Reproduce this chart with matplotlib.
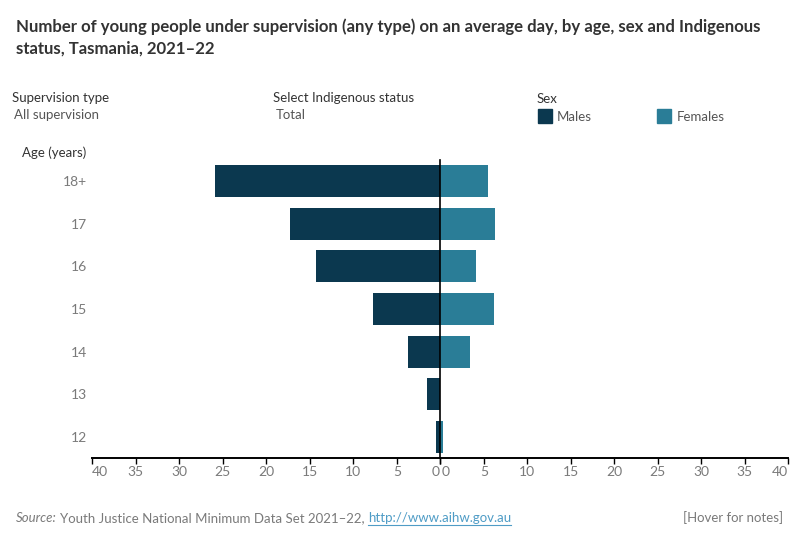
import matplotlib
matplotlib.use("Agg")
import matplotlib.pyplot as plt
from matplotlib.lines import Line2D
from matplotlib.patches import Rectangle

ages = ["18+", "17", "16", "15", "14", "13", "12"]
males = [25.9, 17.3, 14.3, 7.7, 3.7, 1.5, 0.5]
females = [5.5, 6.3, 4.1, 6.2, 3.4, 0.0, 0.3]
xticks = [0, 5, 10, 15, 20, 25, 30, 35, 40]

C_M = "#0b384f"
C_F = "#2a7d97"
GREY = "#7a7a7a"
DARK = "#333333"
FONT = "Lato"

plt.rcParams["font.family"] = [FONT, "DejaVu Sans"]

W, H = 800, 550
fig = plt.figure(figsize=(8, 5.5), dpi=100)

def fx(x):
    return x / W

def fy(y):
    return 1 - y / H

x0, xz, x1 = 92.3, 440.3, 788.3
ytop, ybot = 160, 458
axL = fig.add_axes([fx(x0), fy(ybot), fx(xz - x0), (ybot - ytop) / H])
axR = fig.add_axes([fx(xz), fy(ybot), fx(x1 - xz), (ybot - ytop) / H], sharey=axL)

ypos = list(range(len(ages)))
axL.barh(ypos, males, height=0.75, color=C_M)
axR.barh(ypos, females, height=0.75, color=C_F)
axL.set_xlim(40, 0)
axR.set_xlim(0, 40)
axL.set_ylim(len(ages) - 0.5, -0.5)

for ax, side in ((axL, "L"), (axR, "R")):
    for s in ("top", "right", "left"):
        ax.spines[s].set_visible(False)
    ax.spines["bottom"].set_linewidth(1.4)
    ax.spines["bottom"].set_color("black")
    ax.set_xticks(xticks)
    ax.set_xticklabels([])
    ax.tick_params(axis="x", length=4, width=1, color="black")
    ax.tick_params(axis="y", length=0)
    for t in xticks:
        dx = 0
        if t == 0:
            dx = -5 if side == "L" else 5
        elif t == 40:
            dx = 8 if side == "L" else -8
        ax.annotate(str(t), xy=(t, 0), xycoords=("data", "axes fraction"),
                    xytext=(dx, -8), textcoords="offset pixels",
                    ha="center", va="top", fontsize=10, color=GREY, annotation_clip=False)

axR.tick_params(axis="y", labelleft=False)
axL.set_yticks(ypos)
axL.set_yticklabels(ages)
axL.tick_params(axis="y", labelsize=10, labelcolor=GREY, pad=3.5)
axR.axvline(0, color="black", lw=1.2, zorder=10, clip_on=False)

# Title
fig.text(fx(16), fy(27), "Number of young people under supervision (any type) on an average day, by age, sex and Indigenous",
         fontsize=12.1, fontweight="bold", color=DARK, va="center", ha="left")
fig.text(fx(16), fy(49), "status, Tasmania, 2021\u201322",
         fontsize=12.1, fontweight="bold", color=DARK, va="center", ha="left")

# Controls
fig.text(fx(12), fy(98), "Supervision type", fontsize=9.5, color=DARK, va="center")
fig.text(fx(14), fy(115), "All supervision", fontsize=9.5, color="#555555", va="center")
fig.text(fx(273), fy(98), "Select Indigenous status", fontsize=9.5, color=DARK, va="center")
fig.text(fx(276), fy(115), "Total", fontsize=9.5, color="#555555", va="center")
fig.text(fx(537), fy(99), "Sex", fontsize=9.5, color=DARK, va="center")
fig.patches.append(Rectangle((fx(538), fy(123)), fx(14), 14 / H, transform=fig.transFigure,
                             color=C_M, figure=fig))
fig.text(fx(557), fy(117), "Males", fontsize=9.5, color="#555555", va="center")
fig.patches.append(Rectangle((fx(657), fy(123)), fx(14), 14 / H, transform=fig.transFigure,
                             color=C_F, figure=fig))
fig.text(fx(677), fy(117), "Females", fontsize=9.5, color="#555555", va="center")

fig.text(fx(22), fy(153), "Age (years)", fontsize=9.5, color=DARK, va="center")

# Source line
fig.canvas.draw()
r = fig.canvas.get_renderer()
t1 = fig.text(fx(16), fy(518), "Source:", fontsize=9.5, style="italic", color=GREY, va="center")
bb = t1.get_window_extent(r)
t2 = fig.text(bb.x1 / W + fx(3), fy(518), "Youth Justice National Minimum Data Set 2021\u201322, ",
              fontsize=9.5, color=GREY, va="center")
bb2 = t2.get_window_extent(r)
t3 = fig.text(bb2.x1 / W, fy(518), "http://www.aihw.gov.au", fontsize=9.5, color="#4f9cc6", va="center")
bb3 = t3.get_window_extent(r)
fig.lines.append(Line2D([bb3.x0 / W, bb3.x1 / W], [fy(525), fy(525)], transform=fig.transFigure,
                        color="#4f9cc6", lw=0.8))
fig.text(fx(783), fy(518), "[Hover for notes]", fontsize=9.5, color=GREY, va="center", ha="right")

fig.savefig("out.png", dpi=100)
